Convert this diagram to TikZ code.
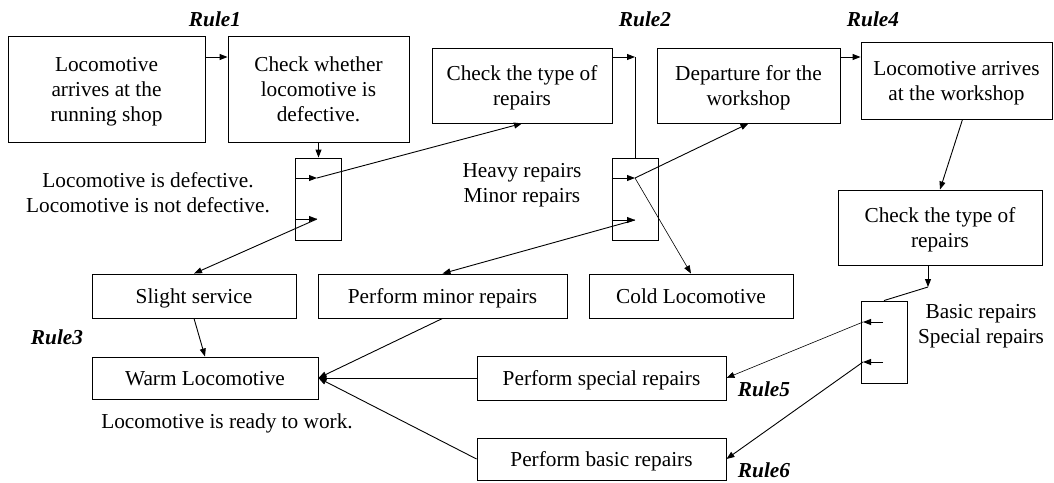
\documentclass[tikz,border=0pt]{standalone}
\usepackage{fontspec}
\setmainfont{Liberation Serif}
\usetikzlibrary{arrows.meta}
\begin{document}
\begin{tikzpicture}[x=1pt,y=-1pt,
  every node/.style={font=\fontsize{21.3}{25}\selectfont},
  box/.style={draw,line width=0.9pt,align=center,inner sep=0pt,text depth=0pt},
  branch/.style={draw,line width=0.9pt,inner sep=0pt,minimum width=46pt,minimum height=82pt},
  note/.style={align=center,inner sep=0pt},
  rulelbl/.style={inner sep=0pt,font=\fontsize{21.3}{25}\selectfont\bfseries\itshape},
  arr/.style={line width=0.9pt,-{Triangle[length=8pt,width=6pt]}},
  thinarr/.style={line width=0.6pt,-{Triangle[length=8pt,width=6pt]}},
  link/.style={line width=0.9pt}]
\useasboundingbox (0,0) rectangle (1054,482);

% process boxes
\node[box,minimum width=197pt,minimum height=106pt] (A) at (106.5,89) {Locomotive\\arrives at the\\running shop};
\node[box,minimum width=181pt,minimum height=106pt] (B) at (318.5,89) {Check whether\\locomotive is\\defective.};
\node[box,minimum width=180pt,minimum height=75pt] (C) at (522,85.5) {Check the type of\\repairs};
\node[box,minimum width=183pt,minimum height=75pt] (D) at (748.5,85.5) {Departure for the\\workshop};
\node[box,minimum width=191pt,minimum height=77pt] (E) at (956.5,80.5) {Locomotive arrives\\at the workshop};
\node[box,minimum width=204pt,minimum height=75pt] (F) at (940,227.5) {Check the type of\\repairs};

\node[box,minimum width=204pt,minimum height=44pt] (ss) at (194,296) {Slight service};
\node[box,minimum width=249pt,minimum height=44pt] (pm) at (442.5,296) {Perform minor repairs};
\node[box,minimum width=204pt,minimum height=44pt] (cl) at (691,296) {Cold Locomotive};
\node[box,minimum width=226pt,minimum height=42pt] (wl) at (205,378) {Warm Locomotive};
\node[box,minimum width=249pt,minimum height=44pt] (ps) at (601.5,378) {Perform special repairs};
\node[box,minimum width=249pt,minimum height=42pt] (pb) at (601.5,459) {Perform basic repairs};

% branch boxes
\node[branch] (d1) at (318.5,199) {};
\node[branch] (d2) at (635,199) {};
\node[branch] (d3) at (884,342) {};

% rule labels
\node[rulelbl] (r1) at (215,19) {Rule1};
\node[rulelbl] (r2) at (645,19) {Rule2};
\node[rulelbl] (r4) at (873,19) {Rule4};
\node[rulelbl] (r3) at (57,337) {Rule3};
\node[rulelbl] (r5) at (764,389) {Rule5};
\node[rulelbl] (r6) at (764,470) {Rule6};

% condition texts
\node[note] (n1) at (148,193) {Locomotive is defective.\\Locomotive is not defective.};
\node[note] (n2) at (522,185) {Heavy repairs\\Minor repairs};
\node[note] (n3) at (981,326) {Basic repairs\\Special repairs};
\node[note] (n4) at (227,423) {Locomotive is ready to work.};

% helper points
\coordinate (top) at (0,57);
\coordinate (c2) at (635,57);
\coordinate (d1a) at (317,178);
\coordinate (d1b) at (317,219);
\coordinate (d2a) at (635,178);
\coordinate (d2b) at (635,220);
\coordinate (d3s1) at (883,322);
\coordinate (d3s2) at (883,362);
\coordinate (d3a) at (863,322);
\coordinate (d3b) at (863,362);
\coordinate (f1) at (928,287);

% top row
\draw[arr] (A.east |- top) -- (B.west |- top);
\draw[arr] (D.east |- top) -- (E.west |- top);
\draw[arr] (C.east |- top) -- (c2);
\draw[link] (c2) -- (d2.north);

% Rule1 branches
\draw[arr] (B.south) -- (d1.north);
\draw[arr] (d1.west |- d1a) -- (d1a);
\draw[arr] (d1.west |- d1b) -- (d1b);
\draw[arr] (d1a) -- (C.south);
\draw[arr] (d1b) -- (ss.north);

% Rule2 branches
\draw[arr] (d2.west |- d2a) -- (d2a);
\draw[arr] (d2.west |- d2b) -- (d2b);
\draw[arr] (d2a) -- (D.south);
\draw[thinarr] (d2a) -- (cl.north);
\draw[arr] (d2b) -- (pm.north);

% workshop side
\draw[arr] ([xshift=6pt]E.south) -- (F.north);
\draw[arr] (F.south -| f1) -- (f1);
\draw[link] (f1) -- (d3.north);
\draw[arr] (d3s1) -- (d3a);
\draw[arr] (d3s2) -- (d3b);
\draw[thinarr] (d3a) -- (ps.east);
\draw[arr] (d3b) -- (pb.east);

% towards the warm locomotive
\draw[arr] (ss.south) -- (wl.north);
\draw[arr] (pm.south) -- (wl.east);
\draw[arr] (ps.west) -- (wl.east);
\draw[arr] (pb.west) -- (wl.east);
\end{tikzpicture}
\end{document}
